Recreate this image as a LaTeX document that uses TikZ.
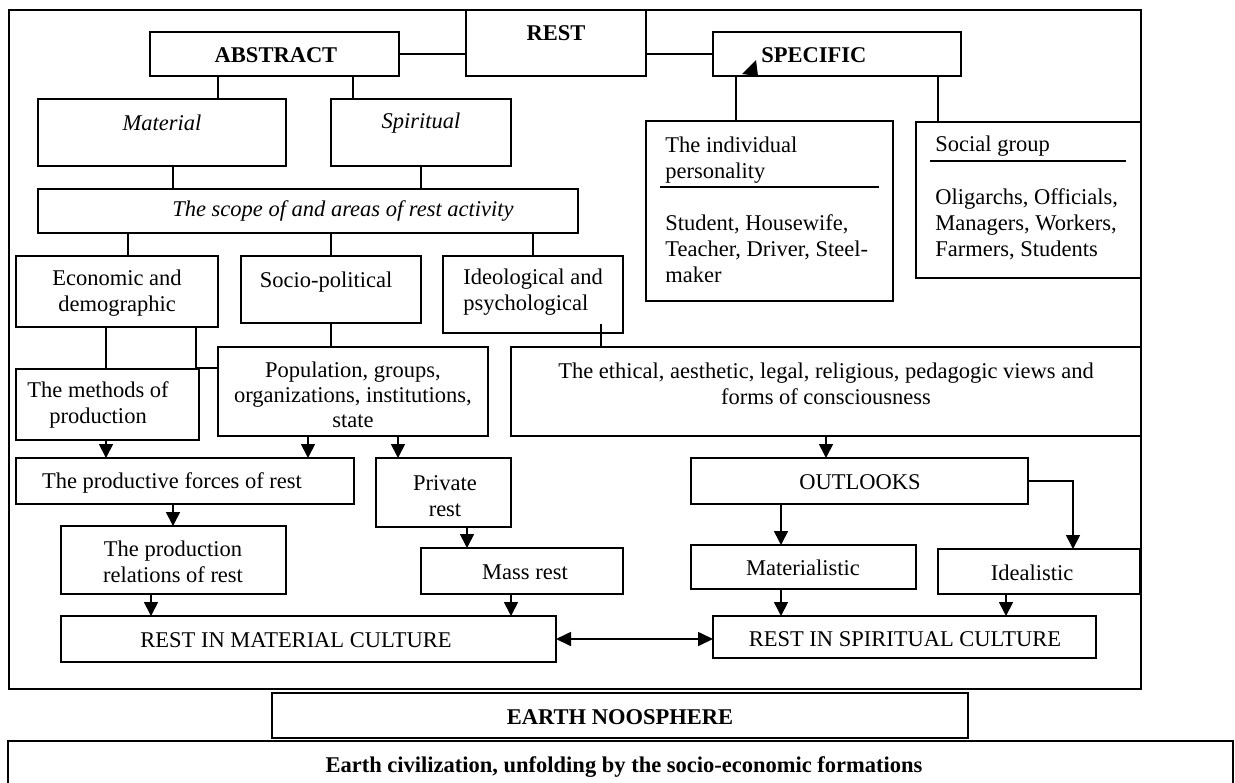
\documentclass[tikz,border=0pt]{standalone}
\usepackage{fontspec}
\setmainfont{Liberation Serif}
\usetikzlibrary{arrows.meta,fit}
\newcommand\fsz{\fontsize{11.25}{13}\selectfont}
\begin{document}
\begin{tikzpicture}[x=0.5pt,y=-0.5pt,
  box/.style={draw,line width=0.85pt,inner sep=0pt,outer sep=0pt},
  frm/.style={line width=1.3pt},
  txt/.style={inner sep=0pt,font=\fsz},
  bold/.style={inner sep=0pt,font=\fsz\bfseries},
  ital/.style={inner sep=0pt,font=\fsz\itshape},
  ln/.style={line width=0.85pt},
  arr/.style={line width=0.85pt,-{Triangle[width=7pt,length=7pt]}},
  darr/.style={line width=0.85pt,{Triangle[width=7pt,length=7.5pt]}-{Triangle[width=7pt,length=7.5pt]}}]
\useasboundingbox (0,0) rectangle (1235,782);
\fill[white] (0,0) rectangle (1235,782);

% outer frame
\node[box,frm,fit={(9,10)(1141,689)}] (frame) {};

% top row
\node[box,fit={(466,10)(646,76)}] (rest) {};
\node[bold] (rest-t) at (556,33) {REST};
\node[box,fit={(150,32)(399,76)}] (abs) {};
\node[bold] (abs-t) at (276,55) {ABSTRACT};
\node[box,fit={(713,32)(961,76)}] (spec) {};
\node[bold,anchor=west] (spec-t) at (761,55) {SPECIFIC};
\fill (742,74) -- (758,76) -- (756,60) -- cycle;

\draw[ln] (abs.east) -- (abs.east -| rest.west);
\draw[ln] (spec.west) -- (spec.west -| rest.east);

% abstract branch
\node[box,fit={(38,99)(286,166)}] (mat) {};
\node[ital] (mat-t) at (162,123) {Material};
\node[box,fit={(331,99)(511,166)}] (spi) {};
\node[ital] (spi-t) at (421,123) {Spiritual};
\draw[ln] (abs.south -| 218,0) -- (mat.north -| 218,0);
\draw[ln] (abs.south -| 353,0) -- (spi.north -| 353,0);

\node[box,fit={(38,189)(578,233)}] (scope) {};
\node[ital] (scope-t) at (343,211) {The scope of and areas of rest activity};
\draw[ln] (mat.south -| 173,0) -- (scope.north -| 173,0);
\draw[ln] (spi.south -| 421,0) -- (scope.north -| 421,0);

% specific branch
\node[box,fit={(646,121)(893,301)}] (indiv) {};
\node[txt,anchor=west,align=left] (indiv-t) at (665,160) {The individual\\personality};
\draw[ln] (660,187) -- (879,187);
\node[txt,anchor=west,align=left] (indiv-l) at (665,249) {Student, Housewife,\\Teacher, Driver, Steel-\\maker};
\node[box,fit={(916,122)(1141,278)}] (grp) {};
\node[txt,anchor=west] (grp-t) at (935,146) {Social group};
\draw[ln] (930,161) -- (1126,161);
\node[txt,anchor=west,align=left] (grp-l) at (935,224) {Oligarchs, Officials,\\Managers, Workers,\\Farmers, Students};
\draw[ln] (spec.south -| 736,0) -- (indiv.north -| 736,0);
\draw[ln] (spec.south -| 938,0) -- (grp.north -| 938,0);

% areas
\node[box,fit={(16,256)(218,327)}] (eco) {};
\node[txt,align=center] (eco-t) at (117,293) {Economic and\\demographic};
\node[box,fit={(241,256)(421,323)}] (soc) {};
\node[txt] (soc-t) at (326,282) {Socio-political};
\node[box,fit={(443,256)(623,333)}] (ideo) {};
\node[txt,anchor=west,align=left] (ideo-t) at (463,292) {Ideological and\\psychological};
\draw[ln] (scope.south -| 128,0) -- (eco.north -| 128,0);
\draw[ln] (scope.south -| 331,0) -- (soc.north -| 331,0);
\draw[ln] (scope.south -| 533,0) -- (ideo.north -| 533,0);

% second level
\node[box,fit={(16,369)(199,440)}] (meth) {};
\node[txt,align=center] (meth-t) at (98,405) {The methods of\\production};
\node[box,fit={(218,347)(488,436)}] (pop) {};
\node[txt,align=center,font=\fontsize{11.25}{12.5}\selectfont] (pop-t) at (353,395) {Population, groups,\\organizations, institutions,\\state};
\node[box,fit={(511,347)(1141,436)}] (eth) {};
\node[txt,align=center] (eth-t) at (826,384) {The ethical, aesthetic, legal, religious, pedagogic views and\\forms of consciousness};

\draw[ln] (eco.south -| 106,0) -- (meth.north -| 106,0);
\coordinate (ep) at (196,368);
\draw[ln] (eco.south -| ep) -- (ep) -- (ep -| pop.west);
\draw[ln] (soc.south -| 331,0) -- (pop.north -| 331,0);
\coordinate (ideo-tap) at (601,324);
\draw[ln] (ideo-tap) -- (ideo-tap |- eth.north);

% third level
\node[box,fit={(16,458)(354,504)}] (prod) {};
\node[txt] (prod-t) at (172,483) {The productive forces of rest};
\node[box,fit={(376,458)(511,527)}] (priv) {};
\node[txt,align=center] (priv-t) at (445,496) {Private\\rest};
\node[box,fit={(691,458)(1028,504)}] (out) {};
\node[txt] (out-t) at (860,482) {OUTLOOKS};

\draw[arr] (meth.south -| 106,0) -- (prod.north -| 106,0);
\draw[arr] (pop.south -| 308,0) -- (prod.north -| 308,0);
\draw[arr] (pop.south -| 398,0) -- (priv.north -| 398,0);
\draw[arr] (eth.south -| 826,0) -- (out.north -| 826,0);

% fourth level
\node[box,fit={(61,526)(286,594)}] (rel) {};
\node[txt,align=center] (rel-t) at (173,562) {The production\\relations of rest};
\node[box,fit={(421,548)(623,594)}] (mass) {};
\node[txt] (mass-t) at (525,572) {Mass rest};
\node[box,fit={(691,545)(916,589)}] (matl) {};
\node[txt] (matl-t) at (803,568) {Materialistic};
\node[box,fit={(938,549)(1140,594)}] (ideal) {};
\node[txt] (ideal-t) at (1032,573) {Idealistic};

\draw[arr] (prod.south -| 173,0) -- (rel.north -| 173,0);
\draw[arr] (priv.south -| 467,0) -- (mass.north -| 467,0);
\draw[arr] (out.south -| 781,0) -- (matl.north -| 781,0);
\draw[arr] (out.east) -| (ideal.north -| 1073,0);

% culture level
\node[box,fit={(61,616)(556,662)}] (rimc) {};
\node[txt] (rimc-t) at (296,640) {REST IN MATERIAL CULTURE};
\node[box,fit={(713,616)(1096,658)}] (risc) {};
\node[txt] (risc-t) at (905,639) {REST IN SPIRITUAL CULTURE};

\draw[arr] (rel.south -| 151,0) -- (rimc.north -| 151,0);
\draw[arr] (mass.south -| 511,0) -- (rimc.north -| 511,0);
\draw[arr] (matl.south -| 781,0) -- (risc.north -| 781,0);
\draw[arr] (ideal.south -| 1006,0) -- (risc.north -| 1006,0);
\draw[darr] (rimc.east) -- (rimc.east -| risc.west);

% bottom
\node[box,fit={(272,693)(968,738)}] (noo) {};
\node[bold] (noo-t) at (620,717) {EARTH NOOSPHERE};
\node[box,fit={(8,741)(1233,800)}] (earth) {};
\node[bold] (earth-t) at (624,767) {Earth civilization, unfolding by the socio-economic formations};
\end{tikzpicture}
\end{document}
